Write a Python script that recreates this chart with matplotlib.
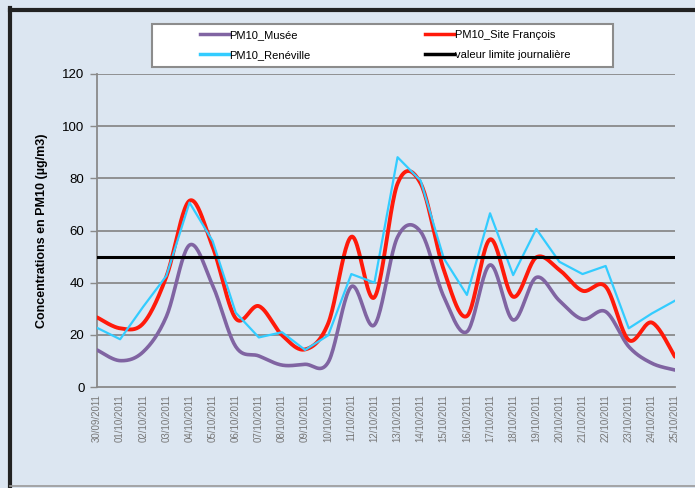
# -*- coding: utf-8 -*-
# Concentrations journalières PM10 - 3 sites + valeur limite journalière
import numpy as np
import matplotlib
matplotlib.use("Agg")
import matplotlib.pyplot as plt
from matplotlib.lines import Line2D
from matplotlib.patches import Rectangle

DATES = [
    "30/09/2011", "01/10/2011", "02/10/2011", "03/10/2011", "04/10/2011",
    "05/10/2011", "06/10/2011", "07/10/2011", "08/10/2011", "09/10/2011",
    "10/10/2011", "11/10/2011", "12/10/2011", "13/10/2011", "14/10/2011",
    "15/10/2011", "16/10/2011", "17/10/2011", "18/10/2011", "19/10/2011",
    "20/10/2011", "21/10/2011", "22/10/2011", "23/10/2011", "24/10/2011",
    "25/10/2011",
]
PM10_MUSEE = [14.2, 10.1, 13.5, 27.0, 54.4, 39.0, 15.5, 11.9, 8.4, 8.7,
              9.5, 38.5, 23.8, 57.5, 59.5, 34.6, 21.2, 46.8, 25.7, 42.0,
              33.1, 26.0, 28.9, 15.5, 9.1, 6.5]
PM10_SITE_FRANCOIS = [26.7, 22.5, 24.4, 42.3, 71.4, 53.8, 26.3, 31.0, 19.9, 14.4,
                      24.4, 57.6, 34.4, 78.0, 78.0, 44.9, 27.2, 56.6, 34.6, 49.7,
                      44.9, 36.9, 38.5, 18.0, 24.7, 11.6]
PM10_RENEVILLE = [22.7, 18.3, 30.8, 42.6, 70.7, 56.0, 28.5, 19.0, 21.0, 14.2,
                  19.8, 43.3, 40.0, 88.1, 79.1, 49.3, 35.3, 66.6, 42.9, 60.6,
                  48.0, 43.3, 46.4, 22.5, 28.2, 33.1]
VALEUR_LIMITE = 50

BG = "#dce6f1"
GRID = "#8a8a8a"
C_MUSEE = "#8064a2"
C_FRANCOIS = "#ff1a0a"
C_RENEV = "#33ccff"


def _smooth(x, y, n=24):
    """Courbe lissée type Excel (Catmull-Rom -> Bézier cubique)."""
    x = np.asarray(x, float)
    y = np.asarray(y, float)
    px = np.concatenate([[x[0]], x, [x[-1]]])
    py = np.concatenate([[y[0]], y, [y[-1]]])
    xs, ys = [], []
    t = np.linspace(0, 1, n, endpoint=False)
    for i in range(1, len(px) - 2):
        p0 = np.array([px[i], py[i]])
        p3 = np.array([px[i + 1], py[i + 1]])
        c1 = p0 + (np.array([px[i + 1], py[i + 1]]) - np.array([px[i - 1], py[i - 1]])) / 6.0
        c2 = p3 - (np.array([px[i + 2], py[i + 2]]) - np.array([px[i], py[i]])) / 6.0
        b = ((1 - t) ** 3)[:, None] * p0 + (3 * (1 - t) ** 2 * t)[:, None] * c1 \
            + (3 * (1 - t) * t ** 2)[:, None] * c2 + (t ** 3)[:, None] * p3
        xs.append(b[:, 0])
        ys.append(b[:, 1])
    xs.append([x[-1]])
    ys.append([y[-1]])
    return np.concatenate(xs), np.concatenate(ys)


plt.rcParams["font.family"] = ["Liberation Sans", "DejaVu Sans"]

fig = plt.figure(figsize=(6.95, 4.88), dpi=100, facecolor=BG)
ax = fig.add_axes([97 / 695, 1 - 387 / 488, 578 / 695, 313 / 488])
ax.set_facecolor(BG)

x = np.arange(len(DATES))

for yv in range(20, 121, 20):
    ax.axhline(yv, color=GRID, lw=1.3, zorder=1)

xm, ym = _smooth(x, PM10_MUSEE)
ax.plot(xm, ym, color=C_MUSEE, lw=2.6, zorder=3, solid_capstyle="round")
xf, yf = _smooth(x, PM10_SITE_FRANCOIS)
ax.plot(xf, yf, color=C_FRANCOIS, lw=2.8, zorder=4, solid_capstyle="round")
ax.plot(x, PM10_RENEVILLE, color=C_RENEV, lw=1.6, zorder=5)
ax.axhline(VALEUR_LIMITE, color="black", lw=2.2, zorder=6)

ax.set_xlim(0, len(DATES) - 1)
ax.set_ylim(0, 120)
ax.set_yticks(range(0, 121, 20))
ax.set_xticks(x)
ax.set_xticklabels(DATES, rotation=90, fontsize=7, color="#777777")
ax.tick_params(axis="x", length=0, pad=5)
ax.tick_params(axis="y", length=5, width=1, color=GRID, labelsize=9.5, pad=4)

for s in ["top", "right"]:
    ax.spines[s].set_visible(False)
ax.spines["left"].set_color(GRID)
ax.spines["left"].set_linewidth(1.3)
ax.spines["bottom"].set_color(GRID)
ax.spines["bottom"].set_linewidth(1.3)

ax.set_ylabel("Concentrations en PM10 (µg/m3)", fontsize=9, fontweight="bold", labelpad=10)

# légende encadrée
fig.patches.append(Rectangle((152 / 695, 1 - 67 / 488), 461 / 695, 43 / 488,
                             transform=fig.transFigure, fc="white", ec="#8c8c8c",
                             lw=1.5, zorder=2))
handles = [
    Line2D([0], [0], color=C_MUSEE, lw=2.5),
    Line2D([0], [0], color=C_RENEV, lw=2.5),
    Line2D([0], [0], color=C_FRANCOIS, lw=2.5),
    Line2D([0], [0], color="black", lw=2.5),
]
labels = ["PM10_Musée", "PM10_Renéville", "PM10_Site François", "valeur limite journalière"]
leg = fig.legend(handles, labels, ncol=2, loc="center left",
                 bbox_to_anchor=(190 / 695, 1 - 45 / 488), frameon=False,
                 fontsize=8, handlelength=2.6, handletextpad=0.05,
                 columnspacing=10.3, labelspacing=0.95)

# cadre
fig.add_artist(Line2D([10 / 695, 10 / 695], [0, 1 - 8 / 488], transform=fig.transFigure,
                      color="#222222", lw=3))
fig.add_artist(Line2D([10 / 695, 1], [1 - 10 / 488, 1 - 10 / 488], transform=fig.transFigure,
                      color="#222222", lw=3))
fig.add_artist(Line2D([10 / 695, 1], [2 / 488, 2 / 488], transform=fig.transFigure,
                      color="#999999", lw=1.2))

fig.savefig("out.png", dpi=100, facecolor=BG)
